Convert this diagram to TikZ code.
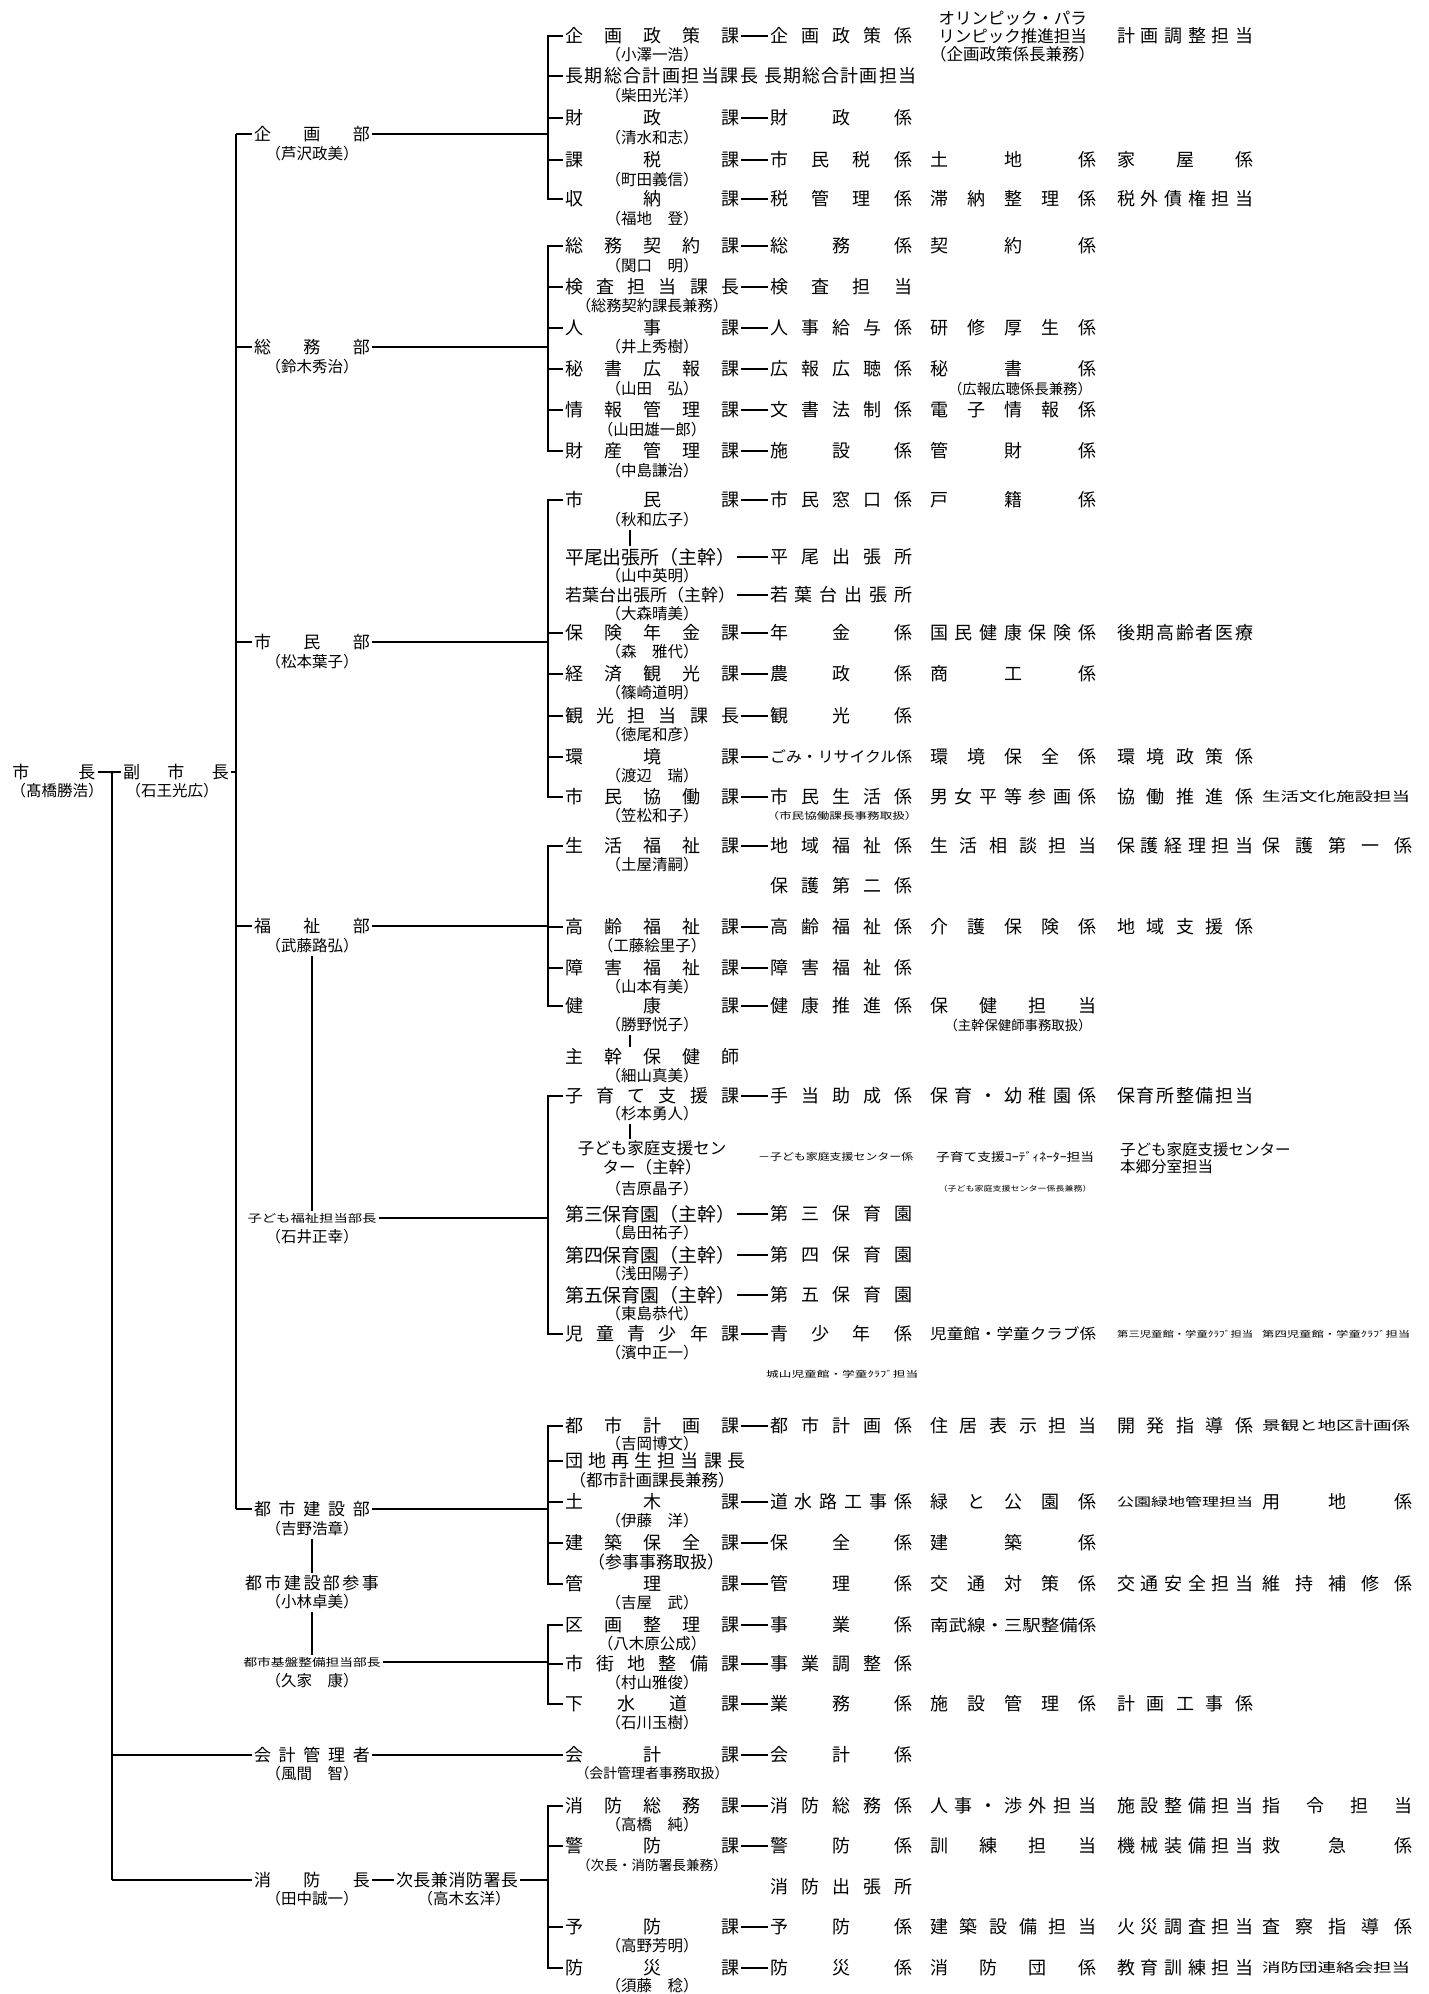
\documentclass[tikz,border=0pt]{standalone}
\usepackage{fontspec}
\usepackage{graphicx}
\newfontfamily\jp{Noto Sans CJK JP}
\usetikzlibrary{positioning,calc}

% spread the characters of #2 over the width #1
\makeatletter
\def\jst@end{\jst@end}
\def\jst@loop#1{\ifx\jst@end#1\else\hfill#1\expandafter\jst@loop\fi}
\def\jst@first#1{#1\jst@loop}
\newcommand\jst[2]{\hbox to #1{\jst@first#2\jst@end}}
\makeatother
\newcommand\fitw[2]{\resizebox{#1}{!}{#2}}
\newcommand\squash[3]{\resizebox*{#1}{#2}{#3}}

% column widths
\def\colwa{142pt}
\def\colwb{166pt}
\def\colwc{136pt}
\def\colwd{150pt}

\tikzset{
  every node/.style={inner sep=2pt, font=\jp\fontsize{18}{18}\selectfont},
  ka/.style={anchor=west},
  kk/.style={anchor=west},
  nm/.style={font=\jp\fontsize{15.5}{15.5}\selectfont},
  bu/.style={font=\jp\fontsize{17}{17}\selectfont},
  ln/.style={line width=1.1pt},
  hyph/.style={line width=1.6pt},
  brk/.style={line width=1.5pt},
  spine/.style={line width=2.8pt},
}

% section (ka), person (who), unit in column a-d (cell)
\newcommand\kam[3]{\node[ka] (#1) at (563,#2) {\jst{174pt}{#3}};}
\newcommand\who[3]{\node[nm] (#1) at (652,#2) {#3};}
\newcommand\cell[4]{\node[kk] (#2) at (x#1 |- 0,#3) {\jst{\csname colw#1\endcsname}{#4}};}

\begin{document}
\begin{tikzpicture}[x=1pt, y=-1pt]
  \fill[white] (0,0) rectangle (1428,1994);
  \useasboundingbox (0,0) rectangle (1428,1994);

  \coordinate (xa) at (768,0);
  \coordinate (xb) at (928,0);
  \coordinate (xc) at (1115,0);
  \coordinate (xd) at (1260,0);
  \coordinate (bx) at (548,0);

  % mayor and vice mayor
  \node[bu] (mayor) at (54,772) {\jst{83pt}{市長}};
  \node[nm] (mayor-n) at (57,791) {（髙橋勝浩）};
  \node[bu] (vice) at (176,772) {\jst{106pt}{副市長}};
  \node[nm] (vice-n) at (172,791) {（石王光広）};
  \coordinate (mv) at (112,772);
  \coordinate (vv) at (236,772);

  % departments
  \node[bu] (kikakubu) at (312,134) {\jst{116pt}{企画部}};
  \node[nm] (kikakubu-n) at (312,154) {（芦沢政美）};
  \node[bu] (somubu) at (312,347) {\jst{116pt}{総務部}};
  \node[nm] (somubu-n) at (312,367) {（鈴木秀治）};
  \node[bu] (shiminbu) at (312,642) {\jst{116pt}{市民部}};
  \node[nm] (shiminbu-n) at (312,662) {（松本葉子）};
  \node[bu] (fukushibu) at (312,926) {\jst{116pt}{福祉部}};
  \node[nm] (fukushibu-n) at (312,946) {（武藤路弘）};
  \node[bu] (kodomobu) at (312,1218) {\squash{129pt}{10pt}{子ども福祉担当部長}};
  \node[nm] (kodomobu-n) at (312,1237) {（石井正幸）};
  \node[bu] (toshibu) at (312,1509) {\jst{116pt}{都市建設部}};
  \node[nm] (toshibu-n) at (312,1529) {（吉野浩章）};
  \node[bu] (sanji) at (312,1583) {\jst{134pt}{都市建設部参事}};
  \node[nm] (sanji-n) at (312,1602) {（小林卓美）};
  \node[bu] (kiban) at (312,1662) {\squash{137pt}{10pt}{都市基盤整備担当部長}};
  \node[nm] (kiban-n) at (312,1681) {（久家　康）};
  \node[bu] (kaikei) at (312,1755) {\jst{116pt}{会計管理者}};
  \node[nm] (kaikei-n) at (312,1774) {（風間　智）};
  \node[bu] (shobo) at (312,1880) {\jst{116pt}{消防長}};
  \node[nm] (shobo-n) at (312,1899) {（田中誠一）};
  \node[bu] (jicho) at (457,1880) {\jst{122pt}{次長兼消防署長}};
  \node[nm] (jicho-n) at (464,1899) {（高木玄洋）};

  % 企画部
  \kam{ki1}{36}{企画政策課} \who{ki1-n}{55}{（小澤一浩）}
  \cell{a}{ki1-a}{36}{企画政策係}
  \node[kk, align=center, font=\jp\fontsize{16.5}{18}\selectfont] (ki1-b) at (928,37) {オリンピック・パラ\\リンピック推進担当\\（企画政策係長兼務）};
  \cell{c}{ki1-c}{36}{計画調整担当}
  \node[ka] (ki2) at (563,76) {\jst{193pt}{長期総合計画担当課長}}; \who{ki2-n}{96}{（柴田光洋）}
  \node[kk] (ki2-a) at (762,76) {\jst{152pt}{長期総合計画担当}};
  \kam{ki3}{118}{財政課} \who{ki3-n}{138}{（清水和志）} \cell{a}{ki3-a}{118}{財政係}
  \kam{ki4}{160}{課税課} \who{ki4-n}{180}{（町田義信）} \cell{a}{ki4-a}{160}{市民税係} \cell{b}{ki4-b}{160}{土地係} \cell{c}{ki4-c}{160}{家屋係}
  \kam{ki5}{199}{収納課} \who{ki5-n}{219}{（福地　登）} \cell{a}{ki5-a}{199}{税管理係} \cell{b}{ki5-b}{199}{滞納整理係} \cell{c}{ki5-c}{199}{税外債権担当}

  % 総務部
  \kam{so1}{246}{総務契約課} \who{so1-n}{266}{（関口　明）} \cell{a}{so1-a}{246}{総務係} \cell{b}{so1-b}{246}{契約係}
  \kam{so2}{287}{検査担当課長} \node[nm] (so2-n) at (652,306) {\fitw{152pt}{（総務契約課長兼務）}}; \cell{a}{so2-a}{287}{検査担当}
  \kam{so3}{328}{人事課} \who{so3-n}{347}{（井上秀樹）} \cell{a}{so3-a}{328}{人事給与係} \cell{b}{so3-b}{328}{研修厚生係}
  \kam{so4}{369}{秘書広報課} \who{so4-n}{389}{（山田　弘）} \cell{a}{so4-a}{369}{広報広聴係} \cell{b}{so4-b}{369}{秘書係}
  \node[nm] (so4-x) at (1020,389) {\fitw{144pt}{（広報広聴係長兼務）}};
  \kam{so5}{410}{情報管理課} \who{so5-n}{430}{（山田雄一郎）} \cell{a}{so5-a}{410}{文書法制係} \cell{b}{so5-b}{410}{電子情報係}
  \kam{so6}{451}{財産管理課} \who{so6-n}{471}{（中島謙治）} \cell{a}{so6-a}{451}{施設係} \cell{b}{so6-b}{451}{管財係}

  % 市民部
  \kam{sh1}{500}{市民課} \who{sh1-n}{520}{（秋和広子）} \cell{a}{sh1-a}{500}{市民窓口係} \cell{b}{sh1-b}{500}{戸籍係}
  \node[ka] (sh2) at (563,557) {\fitw{170pt}{平尾出張所（主幹）}}; \who{sh2-n}{576}{（山中英明）} \cell{a}{sh2-a}{557}{平尾出張所}
  \node[ka] (sh3) at (563,595) {\fitw{170pt}{若葉台出張所（主幹）}}; \who{sh3-n}{614}{（大森晴美）} \cell{a}{sh3-a}{595}{若葉台出張所}
  \kam{sh4}{633}{保険年金課} \who{sh4-n}{652}{（森　雅代）} \cell{a}{sh4-a}{633}{年金係} \cell{b}{sh4-b}{633}{国民健康保険係} \cell{c}{sh4-c}{633}{後期高齢者医療}
  \kam{sh5}{674}{経済観光課} \who{sh5-n}{693}{（篠崎道明）} \cell{a}{sh5-a}{674}{農政係} \cell{b}{sh5-b}{674}{商工係}
  \kam{sh6}{716}{観光担当課長} \who{sh6-n}{735}{（徳尾和彦）} \cell{a}{sh6-a}{716}{観光係}
  \kam{sh7}{757}{環境課} \who{sh7-n}{776}{（渡辺　瑞）}
  \node[kk] (sh7-a) at (768,757) {\squash{142pt}{14pt}{ごみ・リサイクル係}};
  \cell{b}{sh7-b}{757}{環境保全係} \cell{c}{sh7-c}{757}{環境政策係}
  \kam{sh8}{797}{市民協働課} \who{sh8-n}{816}{（笠松和子）} \cell{a}{sh8-a}{797}{市民生活係} \cell{b}{sh8-b}{797}{男女平等参画係} \cell{c}{sh8-c}{797}{協働推進係}
  \node[kk] (sh8-d) at (1260,797) {\squash{148pt}{12pt}{生活文化施設担当}};
  \node (sh8-x) at (842,816) {\squash{151pt}{9pt}{（市民協働課長事務取扱）}};

  % 福祉部
  \kam{fu1}{846}{生活福祉課} \who{fu1-n}{865}{（土屋清嗣）} \cell{a}{fu1-a}{846}{地域福祉係} \cell{b}{fu1-b}{846}{生活相談担当} \cell{c}{fu1-c}{846}{保護経理担当} \cell{d}{fu1-d}{846}{保護第一係}
  \cell{a}{fu1-e}{886}{保護第二係}
  \kam{fu2}{927}{高齢福祉課} \who{fu2-n}{946}{（工藤絵里子）} \cell{a}{fu2-a}{927}{高齢福祉係} \cell{b}{fu2-b}{927}{介護保険係} \cell{c}{fu2-c}{927}{地域支援係}
  \kam{fu3}{968}{障害福祉課} \who{fu3-n}{987}{（山本有美）} \cell{a}{fu3-a}{968}{障害福祉係}
  \kam{fu4}{1006}{健康課} \who{fu4-n}{1025}{（勝野悦子）} \cell{a}{fu4-a}{1006}{健康推進係} \cell{b}{fu4-b}{1006}{保健担当}
  \node[nm] (fu4-x) at (1018,1025) {\fitw{147pt}{（主幹保健師事務取扱）}};
  \kam{fu5}{1057}{主幹保健師} \who{fu5-n}{1076}{（細山真美）}

  % 子ども福祉
  \kam{ko1}{1096}{子育て支援課} \who{ko1-n}{1114}{（杉本勇人）} \cell{a}{ko1-a}{1096}{手当助成係} \cell{b}{ko1-b}{1096}{保育・幼稚園係} \cell{c}{ko1-c}{1096}{保育所整備担当}
  \node[align=center, font=\jp\fontsize{16.5}{19}\selectfont] (ko2) at (652,1158) {子ども家庭支援セン\\ター（主幹）};
  \who{ko2-n}{1189}{（吉原晶子）}
  \node[kk] (ko2-a) at (756,1157) {\squash{155pt}{9pt}{－子ども家庭支援センター係}};
  \node[kk] (ko2-b) at (934,1157) {\squash{158pt}{11pt}{子育て支援ｺｰﾃﾞｨﾈｰﾀｰ担当}};
  \node (ko2-x) at (1015,1189) {\squash{153pt}{7pt}{（子ども家庭支援センター係長兼務）}};
  \node[kk, align=left, font=\jp\fontsize{15.5}{17}\selectfont] (ko2-c) at (1118,1158) {子ども家庭支援センター\\本郷分室担当};
  \node[ka] (ko3) at (563,1214) {\fitw{170pt}{第三保育園（主幹）}}; \who{ko3-n}{1233}{（島田祐子）} \cell{a}{ko3-a}{1214}{第三保育園}
  \node[ka] (ko4) at (563,1255) {\fitw{170pt}{第四保育園（主幹）}}; \who{ko4-n}{1274}{（浅田陽子）} \cell{a}{ko4-a}{1255}{第四保育園}
  \node[ka] (ko5) at (563,1295) {\fitw{170pt}{第五保育園（主幹）}}; \who{ko5-n}{1314}{（東島恭代）} \cell{a}{ko5-a}{1295}{第五保育園}
  \kam{ko6}{1334}{児童青少年課} \who{ko6-n}{1353}{（濱中正一）} \cell{a}{ko6-a}{1334}{青少年係}
  \node[kk] (ko6-b) at (928,1334) {\squash{166pt}{14pt}{児童館・学童クラブ係}};
  \node[kk] (ko6-c) at (1115,1334) {\squash{136pt}{8pt}{第三児童館・学童ｸﾗﾌﾞ担当}};
  \node[kk] (ko6-d) at (1260,1334) {\squash{148pt}{8pt}{第四児童館・学童ｸﾗﾌﾞ担当}};
  \node[kk] (ko6-e) at (764,1374) {\squash{152pt}{8pt}{城山児童館・学童ｸﾗﾌﾞ担当}};

  % 都市建設部
  \kam{to1}{1426}{都市計画課} \who{to1-n}{1444}{（吉岡博文）} \cell{a}{to1-a}{1426}{都市計画係} \cell{b}{to1-b}{1426}{住居表示担当} \cell{c}{to1-c}{1426}{開発指導係}
  \node[kk] (to1-d) at (1260,1426) {\squash{148pt}{12pt}{景観と地区計画係}};
  \node[ka] (to2) at (563,1461) {\jst{180pt}{団地再生担当課長}}; \node[nm] (to2-n) at (652,1480) {\fitw{165pt}{（都市計画課長兼務）}};
  \kam{to3}{1502}{土木課} \who{to3-n}{1521}{（伊藤　洋）} \cell{a}{to3-a}{1502}{道水路工事係} \cell{b}{to3-b}{1502}{緑と公園係}
  \node[kk] (to3-c) at (1115,1502) {\squash{136pt}{11pt}{公園緑地管理担当}}; \cell{d}{to3-d}{1502}{用地係}
  \kam{to4}{1543}{建築保全課} \node[nm] (to4-n) at (656,1562) {\fitw{136pt}{（参事事務取扱）}}; \cell{a}{to4-a}{1543}{保全係} \cell{b}{to4-b}{1543}{建築係}
  \kam{to5}{1584}{管理課} \who{to5-n}{1603}{（吉屋　武）} \cell{a}{to5-a}{1584}{管理係} \cell{b}{to5-b}{1584}{交通対策係} \cell{c}{to5-c}{1584}{交通安全担当} \cell{d}{to5-d}{1584}{維持補修係}

  % 都市基盤整備
  \kam{kb1}{1625}{区画整理課} \who{kb1-n}{1644}{（八木原公成）} \cell{a}{kb1-a}{1625}{事業係}
  \node[kk] (kb1-b) at (928,1625) {\squash{166pt}{15pt}{南武線・三駅整備係}};
  \kam{kb2}{1664}{市街地整備課} \who{kb2-n}{1683}{（村山雅俊）} \cell{a}{kb2-a}{1664}{事業調整係}
  \kam{kb3}{1704}{下水道課} \who{kb3-n}{1723}{（石川玉樹）} \cell{a}{kb3-a}{1704}{業務係} \cell{b}{kb3-b}{1704}{施設管理係} \cell{c}{kb3-c}{1704}{計画工事係}

  % 会計
  \kam{ka1}{1755}{会計課} \node[nm] (ka1-n) at (652,1773) {\fitw{153pt}{（会計管理者事務取扱）}}; \cell{a}{ka1-a}{1755}{会計係}

  % 消防
  \kam{sb1}{1806}{消防総務課} \who{sb1-n}{1825}{（高橋　純）} \cell{a}{sb1-a}{1806}{消防総務係} \cell{b}{sb1-b}{1806}{人事・渉外担当} \cell{c}{sb1-c}{1806}{施設整備担当} \cell{d}{sb1-d}{1806}{指令担当}
  \kam{sb2}{1846}{警防課} \node[nm] (sb2-n) at (652,1865) {\fitw{150pt}{（次長・消防署長兼務）}}; \cell{a}{sb2-a}{1846}{警防係} \cell{b}{sb2-b}{1846}{訓練担当} \cell{c}{sb2-c}{1846}{機械装備担当} \cell{d}{sb2-d}{1846}{救急係}
  \cell{a}{sb2-e}{1887}{消防出張所}
  \kam{sb3}{1927}{予防課} \who{sb3-n}{1946}{（高野芳明）} \cell{a}{sb3-a}{1927}{予防係} \cell{b}{sb3-b}{1927}{建築設備担当} \cell{c}{sb3-c}{1927}{火災調査担当} \cell{d}{sb3-d}{1927}{査察指導係}
  \kam{sb4}{1968}{防災課} \who{sb4-n}{1986}{（須藤　稔）} \cell{a}{sb4-a}{1968}{防災係} \cell{b}{sb4-b}{1968}{消防団係} \cell{c}{sb4-c}{1968}{教育訓練担当}
  \node[kk] (sb4-d) at (1260,1968) {\squash{148pt}{12pt}{消防団連絡会担当}};

  % spines
  \draw[ln] (mayor) -- (vice);
  \draw[spine] (mv) -- (mv |- shobo);
  \draw[ln] (mv |- kaikei) -- (kaikei);
  \draw[ln] (mv |- shobo) -- (shobo);
  \draw[ln] (vice) -- (vv);
  \draw[spine] (vv |- kikakubu) -- (vv |- toshibu);
  \foreach \d in {kikakubu,somubu,shiminbu,fukushibu,toshibu}
    \draw[ln] (vv |- \d) -- (\d);
  \draw[spine] (fukushibu-n) -- (kodomobu);
  \draw[spine] (toshibu-n) -- (sanji);
  \draw[spine] (sanji-n) -- (kiban);
  \draw[ln] (shobo) -- (jicho);
  \draw[ln] (kaikei) -- (ka1);

  % department lines to the brackets
  \foreach \d in {kikakubu,somubu,shiminbu,fukushibu,kodomobu,toshibu,kiban,jicho}
    \draw[ln] (\d) -- (bx |- \d);

  % brackets
  \foreach \t/\b in {ki1/ki5,so1/so6,sh1/sh8,fu1/fu4,ko1/ko6,to1/to5,kb1/kb3,sb1/sb4}
    \draw[brk] (\t) -| (bx |- \b) -- (\b);
  \foreach \r in {ki2,ki3,ki4,so2,so3,so4,so5,sh4,sh5,sh6,sh7,fu2,fu3,to2,to3,to4,kb2,sb2,sb3}
    \draw[ln] (bx |- \r) -- (\r);

  % section to unit
  \foreach \r in {ki1,ki3,ki4,ki5,so1,so2,so3,so4,so5,so6,sh1,sh2,sh3,sh4,sh5,sh6,sh7,sh8,fu1,fu2,fu3,fu4,ko1,ko3,ko4,ko5,ko6,to1,to3,to4,to5,kb1,kb2,kb3,ka1,sb1,sb2,sb3,sb4}
    \draw[hyph] (\r) -- (\r-a);

  % short ticks under names
  \draw[ln] ($(sh1-n.south)+(-22,0)$) -- ($(sh1-n.south |- sh2.north)+(-22,0)$);
  \draw[ln] ($(fu4-n.south)+(-22,0)$) -- ($(fu4-n.south |- fu5.north)+(-22,0)$);
  \draw[ln] ($(ko1-n.south)+(-22,0)$) -- ($(ko1-n.south |- ko2.north)+(-22,0)$);
\end{tikzpicture}
\end{document}
